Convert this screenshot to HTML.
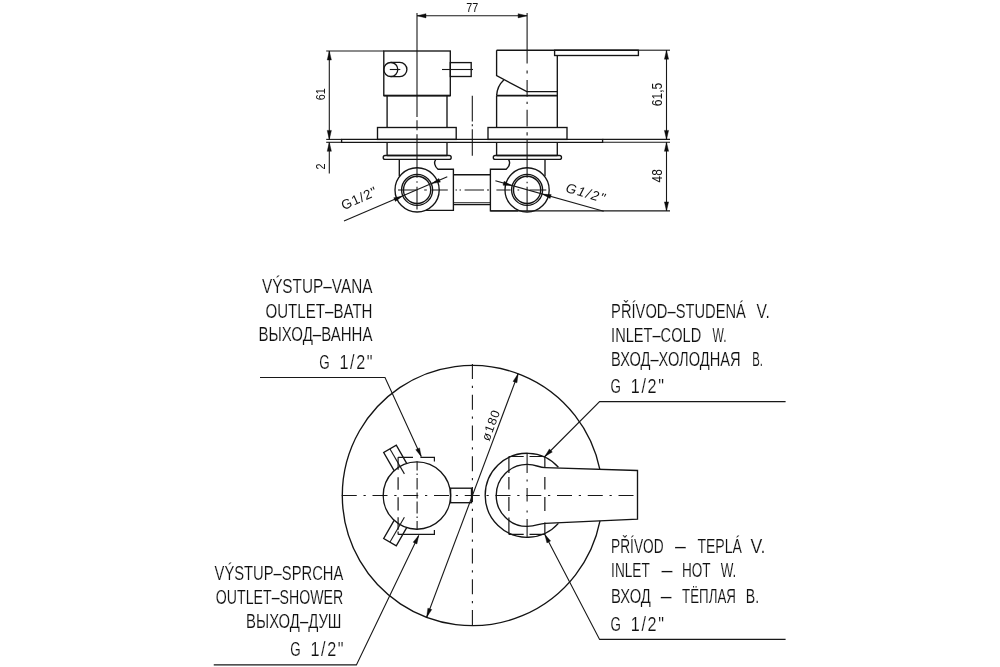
<!DOCTYPE html>
<html lang="cs"><head><meta charset="utf-8"><title>Drawing</title>
<style>
html,body{margin:0;padding:0;background:#fff;}
svg{display:block;will-change:transform}
.m{fill:none;stroke:#141414;stroke-width:1.35}
.m2{fill:none;stroke:#151515;stroke-width:1.8}
.d{fill:none;stroke:#181818;stroke-width:1.1}
.c{fill:none;stroke:#181818;stroke-width:1.1}
.cb{fill:none;stroke:#181818;stroke-width:1.1;stroke-dasharray:15 6.75 2.25 6.75}
.h{fill:none;stroke:#161616;stroke-width:1.2}
.a{fill:#0c0c0c;stroke:#0c0c0c;stroke-width:0.4;stroke-linejoin:round}
text{font-family:"Liberation Sans","DejaVu Sans",sans-serif;fill:#222}
.t{fill:#111}
.t2{fill:#111;stroke:#fff;stroke-width:0.15}
</style></head><body>
<svg width="1000" height="667" viewBox="0 0 1000 667">
<rect x="0" y="0" width="1000" height="667" fill="#fff"/>
<line class="d" x1="417" y1="15.8" x2="527.1" y2="15.8"/>
<polygon class="a" points="417.00,15.80 426.00,17.90 426.00,13.70"/>
<polygon class="a" points="527.10,15.80 518.10,13.70 518.10,17.90"/>
<text class="t" x="472.3" y="12.3" font-size="13.4" text-anchor="middle" textLength="12" lengthAdjust="spacingAndGlyphs">77</text>
<path class="c" d="M417,13 V117 M417,120.2 V130.2 M417,134.3 V177.8 M417,181.3 V182.8 M417,186.7 V209.5"/>
<path class="c" d="M527.1,13 V63.6 M527.1,70.4 V73.4 M527.1,79.9 V96.7 M527.1,101.8 V103.9 M527.1,109.7 V126.5 M527.1,132.2 V135.4 M527.1,140 V177.8 M527.1,181.7 V183.3 M527.1,186.7 V211"/>
<path class="c" d="M472.3,95.7 V121.5 M472.3,124.3 V126.3 M472.3,129.3 V155.8"/>
<path class="c" d="M398,190 H416.3 M424.2,190 H426.8 M431.5,190 H447.8 M455.5,190 H457 M459.5,190 H461 M464.6,190 H484 M487,190 H489 M496.4,190 H510.6 M517.5,190 H519.2 M529.5,190 H546.3"/>
<rect class="m" x="383.8" y="51" width="66.5" height="44.6" rx="0"/>
<circle class="m" cx="390.8" cy="69.5" r="7"/>
<path class="m" d="M390.8,62.4 H399.8 A7.1,7.1 0 0 1 399.8,76.6 H390.8"/>
<line class="d" x1="389.8" y1="69.5" x2="400.3" y2="69.5"/>
<rect class="m" x="450.3" y="62.6" width="20.9" height="13.9" rx="0"/>
<line class="d" x1="442" y1="69.5" x2="473" y2="69.5"/>
<line class="m" x1="387.1" y1="95.6" x2="387.1" y2="127.5"/>
<line class="m" x1="447" y1="95.6" x2="447" y2="127.5"/>
<rect class="m" x="377.5" y="127.5" width="78.7" height="11.9" rx="0"/>
<path class="m" d="M341.6,139.4 H602.6 V142.3 H341.6 Z"/>
<line class="d" x1="326.2" y1="139.4" x2="341.6" y2="139.4"/>
<line class="d" x1="326.2" y1="142.3" x2="341.6" y2="142.3"/>
<line class="d" x1="602.6" y1="139.4" x2="670" y2="139.4"/>
<line class="d" x1="602.6" y1="142.3" x2="670" y2="142.3"/>
<line class="m" x1="387.1" y1="142.3" x2="387.1" y2="155.5"/>
<line class="m" x1="447" y1="142.3" x2="447" y2="155.5"/>
<line class="m" x1="387.1" y1="155.5" x2="447" y2="155.5"/>
<rect class="m" x="383.2" y="155.5" width="68" height="3.8" rx="1.9"/>
<line class="m" x1="399.3" y1="159.3" x2="399.3" y2="176"/>
<path class="m" d="M435.7,159.3 Q432.6,164.3 438,169.2 H453.4 V210.3 H426"/>
<circle class="m" cx="417.1" cy="189.9" r="22.1"/>
<circle class="m" cx="417.1" cy="189.9" r="15.5"/>
<circle class="m" cx="417.1" cy="189.9" r="13.6"/>
<line class="m" x1="453.4" y1="174.7" x2="490.4" y2="174.7"/>
<line class="m" x1="453.4" y1="204.6" x2="490.4" y2="204.6"/>
<line class="d" x1="453.4" y1="202.7" x2="490.4" y2="202.7"/>
<path class="m" d="M496.6,50.2 V75.7 L526.8,91.6 H557.3"/>
<line class="m" x1="557.3" y1="55.6" x2="557.3" y2="127.5"/>
<rect class="m" x="554.6" y="50.2" width="83.8" height="5.3" rx="0"/>
<line class="d" x1="326.2" y1="51" x2="383.8" y2="51"/>
<line class="m" x1="496.6" y1="50.2" x2="638.4" y2="50.2"/>
<line class="d" x1="638.4" y1="50.2" x2="670" y2="50.2"/>
<path class="m" d="M496.6,95.6 Q497.2,86 503.8,80"/>
<line class="m2" x1="496.6" y1="95.6" x2="557.3" y2="95.6"/>
<line class="m" x1="496.6" y1="95.6" x2="496.6" y2="127.5"/>
<line class="m2" x1="383.8" y1="95.6" x2="450.3" y2="95.6"/>
<rect class="m" x="488" y="127.5" width="79" height="11.9" rx="0"/>
<line class="m" x1="496.6" y1="142.3" x2="496.6" y2="155.5"/>
<line class="m" x1="557.3" y1="142.3" x2="557.3" y2="155.5"/>
<line class="m" x1="496.6" y1="155.5" x2="557.3" y2="155.5"/>
<rect class="m" x="493.3" y="155.5" width="68.2" height="3.8" rx="1.9"/>
<line class="m" x1="545" y1="159.3" x2="545" y2="176"/>
<path class="m" d="M508.5,159.3 Q511.6,164.3 506.2,169.2 H490.4 V210.9 H518"/>
<circle class="m" cx="527.1" cy="189.9" r="22.1"/>
<circle class="m" cx="527.1" cy="189.9" r="15.5"/>
<circle class="m" cx="527.1" cy="189.9" r="13.6"/>
<line class="d" x1="490.4" y1="210.9" x2="670" y2="210.9"/>
<line class="d" x1="329.3" y1="51" x2="329.3" y2="139.4"/>
<polygon class="a" points="329.30,51.00 327.20,60.00 331.40,60.00"/>
<polygon class="a" points="329.30,139.40 331.40,130.40 327.20,130.40"/>
<polygon class="a" points="329.30,142.30 327.20,151.30 331.40,151.30"/>
<line class="d" x1="329.3" y1="142.3" x2="329.3" y2="173.4"/>
<text class="t" x="324.8" y="94.3" font-size="13.4" text-anchor="middle" transform="rotate(-90 324.8 94.3)" textLength="12" lengthAdjust="spacingAndGlyphs">61</text>
<text class="t" x="324.8" y="166.4" font-size="13.4" text-anchor="middle" transform="rotate(-90 324.8 166.4)" textLength="6" lengthAdjust="spacingAndGlyphs">2</text>
<line class="d" x1="666.5" y1="50.2" x2="666.5" y2="139.4"/>
<polygon class="a" points="666.50,50.20 664.40,59.20 668.60,59.20"/>
<polygon class="a" points="666.50,139.40 668.60,130.40 664.40,130.40"/>
<line class="d" x1="666.5" y1="142.3" x2="666.5" y2="210.9"/>
<polygon class="a" points="666.50,142.30 664.40,151.30 668.60,151.30"/>
<polygon class="a" points="666.50,210.90 668.60,201.90 664.40,201.90"/>
<text class="t" x="662.4" y="94.5" font-size="13.8" text-anchor="middle" transform="rotate(-90 662.4 94.5)" textLength="23.5" lengthAdjust="spacingAndGlyphs">61,5</text>
<text class="t" x="662.4" y="175.8" font-size="13.8" text-anchor="middle" transform="rotate(-90 662.4 175.8)" textLength="13.2" lengthAdjust="spacingAndGlyphs">48</text>
<line class="d" x1="447.3" y1="176.8" x2="344" y2="221"/>
<polygon class="a" points="402.39,196.19 393.79,197.70 395.36,201.38"/>
<polygon class="a" points="431.81,183.61 440.41,182.10 438.84,178.42"/>
<line class="d" x1="495.4" y1="180.8" x2="603.7" y2="211.2"/>
<polygon class="a" points="542.50,194.22 550.15,198.45 551.23,194.60"/>
<polygon class="a" points="511.70,185.58 504.05,181.35 502.97,185.20"/>
<text class="t" x="343.8" y="210.3" font-size="13.4" text-anchor="start" transform="rotate(-24.5 343.8 210.3)" textLength="37.5" lengthAdjust="spacing">G1/2"</text>
<text class="t" x="565" y="191.8" font-size="13.4" text-anchor="start" transform="rotate(16 565 191.8)" textLength="40" lengthAdjust="spacing" font-style="italic">G1/2"</text>
<path class="m" d="M599.85,469.4 A130.1,130.1 0 1 0 600,520.9"/>
<line class="cb" x1="472.4" y1="364" x2="472.4" y2="627"/>
<line class="cb" x1="341.75" y1="495.5" x2="637.5" y2="495.5"/>
<circle class="m" cx="416.9" cy="495.5" r="33.7"/>
<rect class="m" x="450.6" y="488.2" width="20.9" height="14.5" rx="0"/>
<path class="m" d="M394.12,520.45 L383.72,538.47 L396.28,545.72 L406.68,527.70"/>
<path class="d" d="M404.40,517.15 L390.00,542.09"/>
<path class="m" d="M406.68,463.30 L396.28,445.28 L383.72,452.53 L394.12,470.55"/>
<path class="d" d="M404.40,473.85 L390.00,448.91"/>
<path class="h" d="M398.1,457.3 H413 M420.4,457.3 H434.4 V461.5"/>
<path class="h" d="M398.1,534.4 H434.4 V530"/>
<path class="h" d="M398.1,457.3 V469.8 M398.1,477.3 V489.8 M398.1,497.3 V510.5 M398.1,517.3 V529.8 M398.1,531.6 V534.4"/>
<path class="c" d="M417.1,461.5 V470.5 M417.1,473.5 V475 M417.1,478 V489.5 M417.1,492.5 V498.5 M417.1,501.5 V513.5 M417.1,516.5 V518 M417.1,521 V529.5"/>
<path class="m" d="M558.4,467.2 A42,42 0 1 0 558.4,523.4"/>
<path class="m" d="M637.5,470.5 L545,467.7 C538.5,467.5 536.5,464.4 527.2,464.4 A31,31 0 0 0 527.2,526.4 C536.5,526.4 538.5,523.6 545,523.3 L637.5,519.2 Z"/>
<path class="h" d="M508.9,456.5 V473 M508.9,477 V489.5 M508.9,497 V511 M508.9,517.5 V534.4"/>
<path class="h" d="M544.85,456.5 V467 M544.85,477 V489.5 M544.85,497 V511 M544.85,522.5 V534.4"/>
<path class="h" d="M508.9,456.5 H523.7 M529.5,456.5 H544.85"/>
<path class="h" d="M508.9,534.4 H523.7 M529.5,534.4 H544.85"/>
<path class="c" d="M527.1,453.5 V473 M527.1,479.5 V481.5 M527.1,488 V501.5 M527.1,510.5 V512.5 M527.1,519 V537.5"/>
<line class="d" x1="518.1351538461538" y1="373.7063846153846" x2="426.66484615384616" y2="617.2936153846154"/>
<polygon class="a" points="518.14,373.71 513.01,381.39 516.94,382.87"/>
<polygon class="a" points="426.66,617.29 431.79,609.61 427.86,608.13"/>
<text class="t" x="494.7" y="426.9" font-size="12.5" text-anchor="middle" transform="rotate(-69.4 494.7 426.9)" textLength="31.5" lengthAdjust="spacing">ø180</text>
<path class="d" d="M260,377.5 H385 L421.2,456.5"/>
<polygon class="a" points="421.20,456.50 419.57,447.90 415.75,449.65"/>
<path class="d" d="M213.75,664.9 H356.4 L418.7,535.4"/>
<polygon class="a" points="418.70,535.40 413.12,542.15 416.91,543.97"/>
<path class="d" d="M785.6,401.6 H599.6 L544.85,456.5"/>
<polygon class="a" points="544.85,456.50 552.34,451.96 549.37,449.00"/>
<path class="d" d="M785.6,639.4 H599.6 L544.85,534.4"/>
<polygon class="a" points="544.85,534.40 546.92,542.91 550.64,540.97"/>
<text class="t2" y="293.1" font-size="20.1"><tspan x="261.9" textLength="110.6" lengthAdjust="spacingAndGlyphs">VÝSTUP–VANA</tspan></text>
<text class="t2" y="317.5" font-size="20.1"><tspan x="265.5" textLength="107.0" lengthAdjust="spacingAndGlyphs">OUTLET–BATH</tspan></text>
<text class="t2" y="341.4" font-size="20.1"><tspan x="258.5" textLength="114.0" lengthAdjust="spacingAndGlyphs">ВЫХОД–ВАННА</tspan></text>
<text class="t2" y="368.75" font-size="20.1"><tspan x="319.2" textLength="10.4" lengthAdjust="spacingAndGlyphs">G</tspan> <tspan x="339.5" textLength="34.7" lengthAdjust="spacingAndGlyphs" letter-spacing="2">1/2"</tspan></text>
<text class="t2" y="317.75" font-size="20.1"><tspan x="611.1" textLength="134.8" lengthAdjust="spacingAndGlyphs">PŘÍVOD–STUDENÁ</tspan> <tspan x="756.6" textLength="13.3" lengthAdjust="spacingAndGlyphs">V.</tspan></text>
<text class="t2" y="342.25" font-size="20.1"><tspan x="611.1" textLength="90.1" lengthAdjust="spacingAndGlyphs">INLET–COLD</tspan> <tspan x="712.5" textLength="14.0" lengthAdjust="spacingAndGlyphs">W.</tspan></text>
<text class="t2" y="365.9" font-size="20.1"><tspan x="611.1" textLength="129.5" lengthAdjust="spacingAndGlyphs">ВХОД–ХОЛОДНАЯ</tspan> <tspan x="752.2" textLength="10.7" lengthAdjust="spacingAndGlyphs">В.</tspan></text>
<text class="t2" y="393" font-size="20.1"><tspan x="610.5" textLength="10.4" lengthAdjust="spacingAndGlyphs">G</tspan> <tspan x="630.8" textLength="34.7" lengthAdjust="spacingAndGlyphs" letter-spacing="2">1/2"</tspan></text>
<text class="t2" y="552.75" font-size="20.1"><tspan x="611.1" textLength="52.5" lengthAdjust="spacingAndGlyphs">PŘÍVOD</tspan> <tspan x="675" textLength="10.9" lengthAdjust="spacingAndGlyphs">–</tspan> <tspan x="697.4" textLength="44.5" lengthAdjust="spacingAndGlyphs">TEPLÁ</tspan> <tspan x="750.4" textLength="15.1" lengthAdjust="spacingAndGlyphs">V.</tspan></text>
<text class="t2" y="576.9" font-size="20.1"><tspan x="611.1" textLength="38.5" lengthAdjust="spacingAndGlyphs">INLET</tspan> <tspan x="661.4" textLength="11.0" lengthAdjust="spacingAndGlyphs">–</tspan> <tspan x="682" textLength="28.4" lengthAdjust="spacingAndGlyphs">HOT</tspan> <tspan x="720.7" textLength="15.6" lengthAdjust="spacingAndGlyphs">W.</tspan></text>
<text class="t2" y="602.6" font-size="20.1"><tspan x="611.1" textLength="39.8" lengthAdjust="spacingAndGlyphs">ВХОД</tspan> <tspan x="660.7" textLength="10.8" lengthAdjust="spacingAndGlyphs">–</tspan> <tspan x="682" textLength="53.9" lengthAdjust="spacingAndGlyphs">ТЁПЛАЯ</tspan> <tspan x="745.7" textLength="13.4" lengthAdjust="spacingAndGlyphs">В.</tspan></text>
<text class="t2" y="630.6" font-size="20.1"><tspan x="610.5" textLength="10.4" lengthAdjust="spacingAndGlyphs">G</tspan> <tspan x="630.8" textLength="34.7" lengthAdjust="spacingAndGlyphs" letter-spacing="2">1/2"</tspan></text>
<text class="t2" y="579.85" font-size="20.1"><tspan x="214.6" textLength="128.7" lengthAdjust="spacingAndGlyphs">VÝSTUP–SPRCHA</tspan></text>
<text class="t2" y="604.35" font-size="20.1"><tspan x="215.85" textLength="127.4" lengthAdjust="spacingAndGlyphs">OUTLET–SHOWER</tspan></text>
<text class="t2" y="628.15" font-size="20.1"><tspan x="246.1" textLength="95.4" lengthAdjust="spacingAndGlyphs">ВЫХОД–ДУШ</tspan></text>
<text class="t2" y="655.6" font-size="20.1"><tspan x="290.2" textLength="10.4" lengthAdjust="spacingAndGlyphs">G</tspan> <tspan x="310.5" textLength="34.7" lengthAdjust="spacingAndGlyphs" letter-spacing="2">1/2"</tspan></text>
</svg>
</body></html>
